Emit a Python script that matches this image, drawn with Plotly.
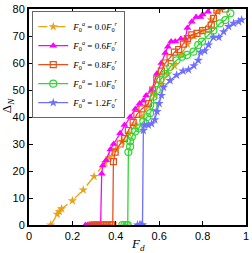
import plotly.graph_objects as go

fd_00 = [0.10, 0.13, 0.14, 0.15, 0.20, 0.25, 0.30, 0.35, 0.37, 0.40, 0.43, 0.46, 0.49, 0.52, 0.55, 0.58, 0.61, 0.64, 0.67, 0.70, 0.73, 0.76, 0.80, 0.84, 0.87]
dn_00 = [0, 4, 5, 6, 9, 13, 18, 23, 25, 28, 31, 34, 37, 40, 44, 48, 52, 56, 59, 63, 67, 70, 72, 76, 79]

fd_06 = [0.26, 0.27, 0.28, 0.29, 0.30, 0.31, 0.32, 0.33, 0.335, 0.34, 0.355, 0.375, 0.39, 0.42, 0.44, 0.466, 0.49, 0.51, 0.527, 0.54, 0.566, 0.589, 0.61, 0.628, 0.64, 0.655, 0.674, 0.70, 0.72, 0.73, 0.75, 0.77, 0.79, 0.80, 0.825, 0.84]
dn_06 = [0, 0, 0, 0, 0, 0, 0, 0, 19, 22, 24, 28, 30, 34, 37, 40, 43, 45, 46, 48, 50, 56, 60, 63.7, 66, 68, 68, 69, 69, 73, 75.3, 77, 77, 78, 79, 81]

fd_08 = [0.29, 0.30, 0.31, 0.32, 0.33, 0.34, 0.35, 0.36, 0.37, 0.38, 0.386, 0.389, 0.397, 0.42, 0.44, 0.458, 0.48, 0.497, 0.52, 0.55, 0.57, 0.589, 0.61, 0.628, 0.65, 0.67, 0.69, 0.712, 0.73, 0.75, 0.774, 0.80, 0.827, 0.84, 0.85, 0.866, 0.905]
dn_08 = [0, 0, 0, 0, 0, 0, 0, 0, 0, 0, 0, 23.5, 27, 30, 32, 35, 38, 41, 43, 45, 50, 54, 57, 60, 62, 64, 65, 67, 69, 70.4, 71, 72, 72.5, 74, 76.5, 79.6, 80]

fd_10 = [0.43, 0.44, 0.45, 0.455, 0.458, 0.466, 0.466, 0.474, 0.489, 0.505, 0.527, 0.545, 0.558, 0.574, 0.574, 0.589, 0.605, 0.628, 0.651, 0.68, 0.705, 0.728, 0.758, 0.78, 0.797, 0.827, 0.85, 0.88, 0.905, 0.928]
dn_10 = [0, 0, 0, 0, 27, 29, 31, 32.7, 34.6, 35.8, 38.3, 40, 41.4, 44, 47.5, 50, 53.7, 56, 58.6, 61, 62.3, 63, 64.2, 66.7, 67.9, 70.4, 72, 74.7, 75.9, 78.4]

fd_12 = [0.50, 0.51, 0.515, 0.52, 0.523, 0.527, 0.532, 0.55, 0.565, 0.58, 0.59, 0.60, 0.61, 0.62, 0.65, 0.68, 0.71, 0.735, 0.76, 0.78, 0.79, 0.81, 0.827, 0.85, 0.875, 0.897, 0.92, 0.943, 0.966, 0.98]
dn_12 = [0, 0, 0, 0, 0, 35, 37, 37, 37.5, 39, 42, 45, 48, 51, 53.5, 55.5, 57, 57.5, 59, 61, 64, 64.5, 66.7, 69.5, 69.5, 71.6, 73.5, 74.7, 75.3, 76]

labels = ["0.0", "0.6", "0.8", "1.0", "1.2"]
xs = [fd_00, fd_06, fd_08, fd_10, fd_12]
ys = [dn_00, dn_06, dn_08, dn_10, dn_12]
colors = ["#e8a317", "#ff00ff", "#e8501a", "#33d633", "#6f6fff"]
symbols = ["star", "triangle-up", "square-open", "circle-open", "star"]
dashes = ["dash", "solid", "solid", "solid", "solid"]

fig = go.Figure()
for lab, x, y, c, s, d in zip(labels, xs, ys, colors, symbols, dashes):
    fig.add_trace(go.Scatter(
        x=x, y=y, mode="lines+markers",
        name=f"<i>F</i><sub>0</sub><sup><i>a</i></sup> = {lab}<i>F</i><sub>0</sub><sup><i>r</i></sup>",
        line=dict(color=c, width=1.3, dash=d),
        marker=dict(symbol=s, size=7 if s != "square-open" else 6, color=c,
                    line=dict(color=c, width=1.2 if "open" in s else 0)),
    ))

axis_common = dict(showline=True, linecolor="black", linewidth=2, mirror="ticks",
                   ticks="inside", ticklen=4, tickcolor="black", tickwidth=1,
                   showgrid=False, zeroline=False, automargin=False,
                   tickfont=dict(family="Liberation Sans, Arial", size=11, color="black"))

fig.update_layout(
    width=252, height=253,
    margin=dict(l=29, r=6, t=9, b=28, autoexpand=False),
    plot_bgcolor="white", paper_bgcolor="white",
    xaxis=dict(range=[0, 1], tickvals=[0, 0.2, 0.4, 0.6, 0.8, 1],
               ticktext=["0", "0.2", "0.4", "0.6", "0.8", "1"], **axis_common),
    yaxis=dict(range=[0, 80], tickvals=[0, 10, 20, 30, 40, 50, 60, 70, 80], **axis_common),
    legend=dict(x=0.015, y=0.99, xanchor="left", yanchor="top",
                bgcolor="white", bordercolor="#666666", borderwidth=1,
                font=dict(family="Liberation Serif", size=9, color="black"),
                tracegroupgap=0, itemwidth=30),
    showlegend=True,
    annotations=[
        dict(text="<i>F</i><sub><i>d</i></sub>", xref="paper", yref="paper",
             x=0.5, y=0, yshift=-19, xanchor="center", yanchor="middle", showarrow=False,
             font=dict(family="Liberation Serif", size=13, color="black")),
        dict(text="Δ<sub><i>N</i></sub>", xref="paper", yref="paper",
             x=0, y=0.55, xshift=-22, xanchor="center", yanchor="middle", showarrow=False,
             textangle=-90,
             font=dict(family="Liberation Serif", size=13, color="black")),
    ],
)

fig.write_html("out.html", config={"displayModeBar": False},
               post_script="document.body.style.margin='0px';document.body.style.overflow='hidden';")
